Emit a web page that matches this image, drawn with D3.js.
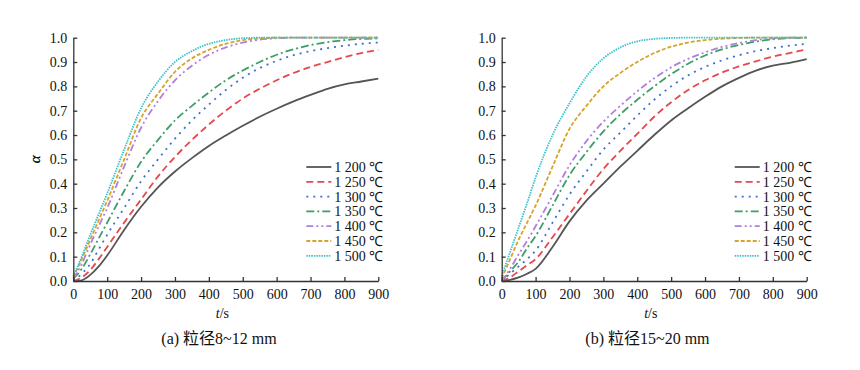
<!DOCTYPE html>
<html>
<head>
<meta charset="utf-8">
<script src="https://cdn.jsdelivr.net/npm/d3@7"></script>
<style>
  body { margin: 0; background: #fff; }
  text { font-family: "Liberation Serif", "Times New Roman", serif; fill: #111; }
  .cap { font-family: "Liberation Serif", "Noto Sans CJK SC", serif; }
</style>
</head>
<body>
<div id="chart"></div>
<script>
// time points (s)
var times = [0, 25, 50, 75, 100, 150, 200, 250, 300, 350, 400, 450, 500, 550, 600, 650, 700, 750, 800, 850, 900];
var temps = ['1 200 ℃', '1 250 ℃', '1 300 ℃', '1 350 ℃', '1 400 ℃', '1 450 ℃', '1 500 ℃'];
var xTicks = [0, 100, 200, 300, 400, 500, 600, 700, 800, 900];
var yTicks = [0, 0.1, 0.2, 0.3, 0.4, 0.5, 0.6, 0.7, 0.8, 0.9, 1.0];

// (a) particle size 8~12 mm
var a1200 = [0, 0.003, 0.025, 0.06, 0.105, 0.21, 0.305, 0.385, 0.45, 0.505, 0.555, 0.598, 0.638, 0.675, 0.708, 0.738, 0.765, 0.79, 0.808, 0.82, 0.832];
var a1250 = [0, 0.015, 0.045, 0.09, 0.14, 0.24, 0.335, 0.43, 0.51, 0.58, 0.643, 0.70, 0.75, 0.79, 0.825, 0.855, 0.88, 0.90, 0.92, 0.937, 0.95];
var a1300 = [0, 0.03, 0.07, 0.13, 0.19, 0.30, 0.41, 0.50, 0.585, 0.66, 0.725, 0.785, 0.835, 0.875, 0.905, 0.928, 0.945, 0.957, 0.967, 0.975, 0.98];
var a1350 = [0.01, 0.05, 0.11, 0.175, 0.24, 0.37, 0.49, 0.58, 0.66, 0.72, 0.775, 0.825, 0.865, 0.9, 0.93, 0.952, 0.97, 0.982, 0.99, 0.995, 0.997];
var a1400 = [0.01, 0.07, 0.15, 0.225, 0.30, 0.47, 0.63, 0.74, 0.825, 0.885, 0.93, 0.96, 0.98, 0.992, 0.998, 1, 1, 1, 1, 1, 1];
var a1450 = [0.015, 0.09, 0.17, 0.25, 0.33, 0.50, 0.67, 0.77, 0.86, 0.915, 0.95, 0.975, 0.99, 0.997, 1, 1, 1, 1, 1, 1, 1];
var a1500 = [0.02, 0.10, 0.19, 0.275, 0.36, 0.54, 0.71, 0.82, 0.90, 0.945, 0.975, 0.99, 0.998, 1, 1, 1, 1, 1, 1, 1, 1];

// (b) particle size 15~20 mm
var b1200 = [0, 0.005, 0.015, 0.03, 0.05, 0.14, 0.245, 0.33, 0.40, 0.47, 0.535, 0.6, 0.66, 0.71, 0.757, 0.8, 0.835, 0.865, 0.885, 0.897, 0.912];
var b1250 = [0, 0.015, 0.04, 0.065, 0.09, 0.18, 0.275, 0.37, 0.46, 0.535, 0.605, 0.675, 0.735, 0.785, 0.825, 0.857, 0.882, 0.903, 0.922, 0.937, 0.952];
var b1300 = [0, 0.03, 0.06, 0.09, 0.125, 0.24, 0.355, 0.45, 0.54, 0.61, 0.68, 0.745, 0.80, 0.845, 0.88, 0.907, 0.928, 0.945, 0.957, 0.967, 0.975];
var b1350 = [0, 0.04, 0.08, 0.135, 0.185, 0.31, 0.435, 0.53, 0.615, 0.685, 0.745, 0.80, 0.85, 0.893, 0.927, 0.952, 0.97, 0.984, 0.993, 0.998, 1];
var b1400 = [0, 0.05, 0.11, 0.165, 0.225, 0.35, 0.475, 0.575, 0.655, 0.72, 0.78, 0.833, 0.878, 0.913, 0.94, 0.962, 0.978, 0.99, 0.997, 1, 1];
var b1450 = [0.01, 0.09, 0.17, 0.24, 0.31, 0.47, 0.625, 0.72, 0.80, 0.855, 0.90, 0.937, 0.963, 0.98, 0.99, 0.996, 0.999, 1, 1, 1, 1];
var b1500 = [0.02, 0.12, 0.22, 0.32, 0.425, 0.60, 0.73, 0.84, 0.915, 0.96, 0.985, 0.995, 0.999, 1, 1, 1, 1, 1, 1, 1, 1];

var colors = ['#555555', '#e5484d', '#3f6fd0', '#3d9e68', '#b27fd9', '#d8a328', '#3cc1cb'];
var dashes = ['none', '7,4', '2,5', '8,3,2,3', '7,3,2,3,2,3', '4,2', '1.5,1'];

var width = 860, height = 370;
var svg = d3.select('#chart').append('svg')
  .attr('width', width)
  .attr('height', height);

function drawPanel(left, series, caption) {
  var x = d3.scaleLinear().domain([0, 900]).range([left, left + 305]);
  var y = d3.scaleLinear().domain([0, 1]).range([281, 37.7]);
  var g = svg.append('g');

  var line = d3.line()
    .x(function(d) { return x(d[0]); })
    .y(function(d) { return y(d[1]); })
    .curve(d3.curveMonotoneX);

  series.forEach(function(vals, i) {
    g.append('path')
      .datum(times.map(function(t, j) { return [t, vals[j]]; }))
      .attr('d', line)
      .attr('fill', 'none')
      .attr('stroke', colors[i])
      .attr('stroke-width', 1.8)
      .attr('stroke-dasharray', dashes[i]);
  });

  // axes with inward ticks
  var xAxis = d3.axisBottom(x).tickValues(xTicks).tickSizeInner(-4).tickSizeOuter(0).tickPadding(8);
  var yAxis = d3.axisLeft(y).tickValues(yTicks).tickSizeInner(-4).tickSizeOuter(0).tickPadding(6)
    .tickFormat(d3.format('.1f'));

  var gx = g.append('g').attr('transform', 'translate(0,' + y(0) + ')').call(xAxis);
  var gy = g.append('g').attr('transform', 'translate(' + x(0) + ',0)').call(yAxis);
  [gx, gy].forEach(function(a) {
    a.select('.domain').attr('stroke', '#333').attr('stroke-width', 1.3);
    a.selectAll('.tick line').attr('stroke', '#333').attr('stroke-width', 1.3);
    a.selectAll('.tick text').style('font-family', '"Liberation Serif", serif')
      .style('font-size', '14px').attr('fill', '#111');
  });

  // axis titles
  var xt = g.append('text')
    .attr('x', x(440)).attr('y', 318)
    .attr('text-anchor', 'middle')
    .style('font-size', '14px');
  xt.append('tspan').style('font-style', 'italic').text('t');
  xt.append('tspan').text('/s');

  g.append('text')
    .attr('transform', 'translate(40,' + y(0.5) + ') rotate(-90)')
    .attr('text-anchor', 'middle')
    .style('font-size', '15px')
    .style('font-style', 'italic')
    .text('α');

  // legend
  var lg = g.append('g').attr('transform', 'translate(' + (x(900) - 72) + ',167)');
  temps.forEach(function(name, i) {
    var row = lg.append('g').attr('transform', 'translate(0,' + (i * 14.8) + ')');
    row.append('line')
      .attr('x1', 0).attr('x2', 25).attr('y1', 0).attr('y2', 0)
      .attr('stroke', colors[i])
      .attr('stroke-width', 1.8)
      .attr('stroke-dasharray', dashes[i]);
    row.append('text')
      .attr('x', 28).attr('y', 5)
      .style('font-size', '14px')
      .text(name);
  });

  g.append('text')
    .attr('class', 'cap')
    .attr('x', x(430)).attr('y', 344)
    .attr('text-anchor', 'middle')
    .style('font-size', '16px')
    .text(caption);
}

drawPanel(73.3, [a1200, a1250, a1300, a1350, a1400, a1450, a1500], '(a) 粒径8~12 mm');
drawPanel(501.7, [b1200, b1250, b1300, b1350, b1400, b1450, b1500], '(b) 粒径15~20 mm');
</script>
</body>
</html>
